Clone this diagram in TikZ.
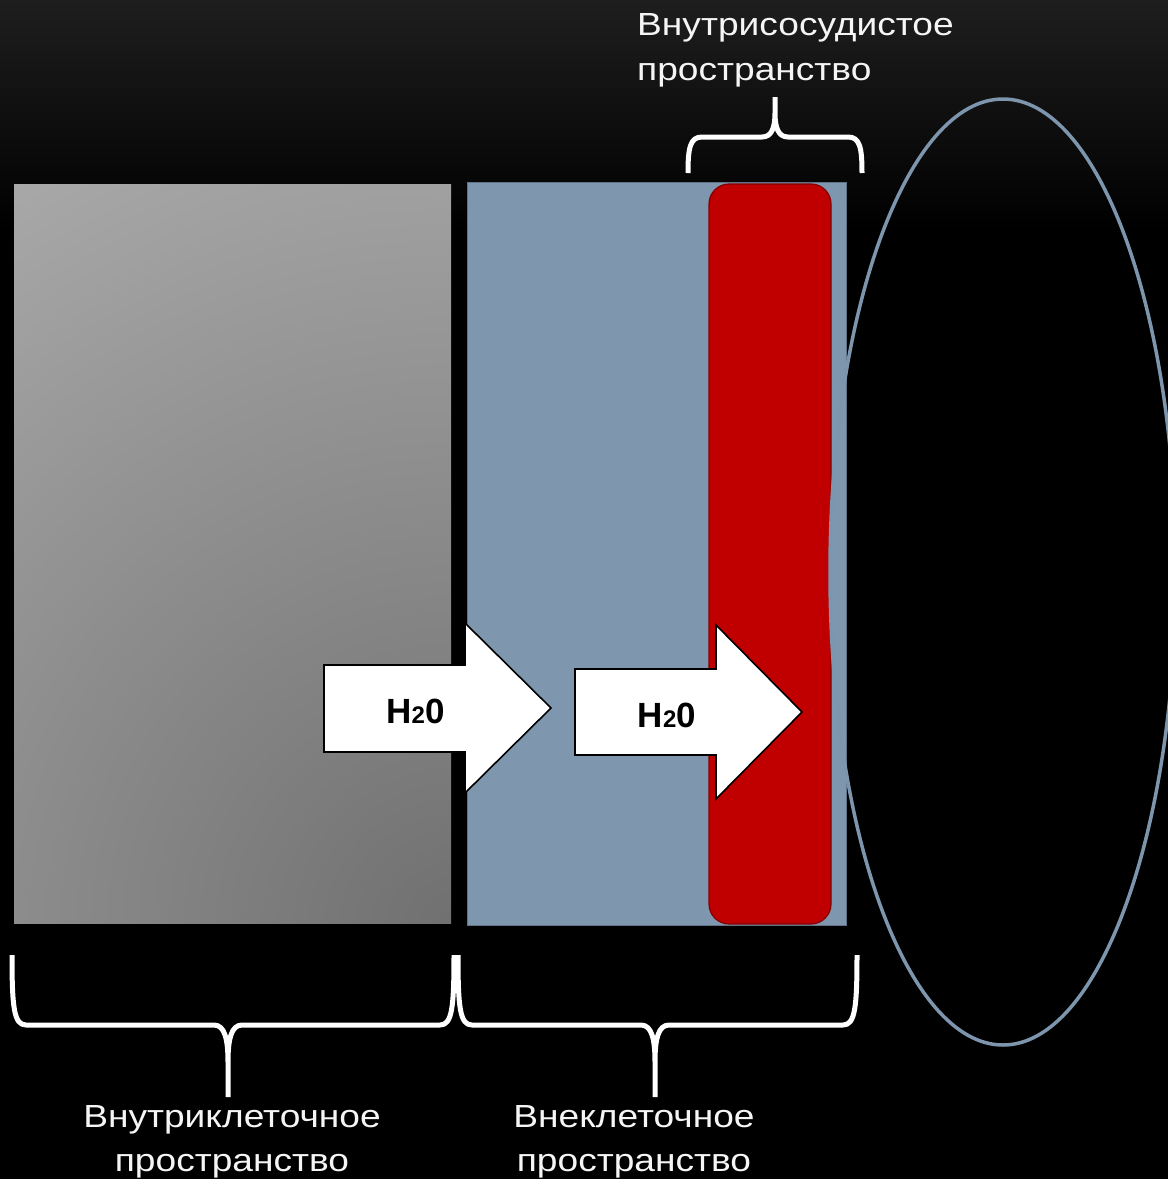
\documentclass[tikz,border=0pt]{standalone}
\usepackage{fontspec}
\setmainfont{Liberation Sans}
\newfontfamily\labelfont{Liberation Sans}[FakeStretch=1.16]
\definecolor{bgtop}{RGB}{30,30,30}
\definecolor{cellLight}{RGB}{170,170,170}
\definecolor{cellDark}{RGB}{112,112,112}
\definecolor{extraFill}{RGB}{127,151,174}
\definecolor{extraEdge}{RGB}{96,114,134}
\definecolor{vesselFill}{RGB}{192,0,0}
\definecolor{vesselEdge}{RGB}{130,0,0}
\definecolor{rimCol}{RGB}{125,149,173}
\definecolor{labelCol}{RGB}{245,245,245}
\tikzset{
  bracket/.style={draw=white, line width=5pt, line join=round},
  flowarrow/.style={draw=black, fill=white, line width=1.6pt, line join=miter},
  flowtext/.style={font=\fontsize{35}{40}\selectfont\bfseries, text=black, inner sep=0pt, anchor=base},
  caption/.style={font=\labelfont\fontsize{32}{40}\selectfont, text=labelCol, inner sep=0pt},
}
\newcommand{\water}{H{\fontsize{24}{24}\selectfont 2}0}
\begin{document}
\begin{tikzpicture}[x=1pt,y=-1pt]
  % page and dark backdrop
  \useasboundingbox (0,0) rectangle (1168,1179);
  \fill[black] (0,0) rectangle (1168,1179);
  \shade[top color=bgtop, bottom color=black] (0,0) rectangle (1168,230);

  % intracellular block with soft gradient, darkest at the lower right
  \begin{scope}
    \clip (14,184) rectangle (451,923);
    \fill[cellLight] (14,184) rectangle (451,923);
    \shade[inner color=cellDark, outer color=cellLight] (455,930) circle (900);
  \end{scope}

  % extracellular block
  \draw[fill=extraFill, draw=extraEdge, line width=1pt] (467,182) rectangle (846,925);

  % vessel bar
  \draw[fill=vesselFill, draw=vesselEdge, line width=1.2pt, rounded corners=20pt] (709,184) rectangle (831,924);

  % vessel outline
  \draw[rimCol, line width=3.5pt] (1003,572) ellipse [x radius=173, y radius=473];

  % water flow arrows
  \draw[flowarrow] (324,665) -- (465,665) -- (465,623) -- (551,708) -- (465,793) -- (465,752) -- (324,752) -- cycle;
  \node[flowtext] (h2oA) at (415.5,723) {\water};
  \draw[flowarrow] (575,669) -- (716,669) -- (716,625) -- (802,712) -- (716,799) -- (716,755) -- (575,755) -- cycle;
  \node[flowtext] (h2oB) at (667,727) {\water};

  % brace over the vessel
  \draw[bracket] (688,173) .. controls (688,148) and (690,137) .. (702,137) -- (762,137)
    .. controls (772,137) and (775,127) .. (775,113) -- (775,97)
    (775,113) .. controls (775,127) and (778,137) .. (788,137) -- (848,137)
    .. controls (860,137) and (862,148) .. (862,173);

  % brace under the intracellular block
  \draw[bracket] (12,955) .. controls (12,1008) and (14,1025) .. (26,1025) -- (214,1025)
    .. controls (225,1025) and (228,1040) .. (228,1062) -- (228,1097)
    (228,1062) .. controls (228,1040) and (231,1025) .. (242,1025) -- (440,1025)
    .. controls (452,1025) and (454,1008) .. (454,955);

  % brace under the extracellular block
  \draw[bracket] (458,955) .. controls (458,1008) and (460,1025) .. (472,1025) -- (641,1025)
    .. controls (652,1025) and (655,1040) .. (655,1062) -- (655,1097)
    (655,1062) .. controls (655,1040) and (658,1025) .. (669,1025) -- (843,1025)
    .. controls (855,1025) and (857,1008) .. (857,955);

  % captions
  \node[caption, anchor=base west] (vasc1) at (637,35) {Внутрисосудистое};
  \node[caption, anchor=base west] (vasc2) at (637,80) {пространство};
  \node[caption, anchor=base] (cell1) at (232,1127) {Внутриклеточное};
  \node[caption, anchor=base] (cell2) at (232,1171) {пространство};
  \node[caption, anchor=base] (extra1) at (634,1127) {Внеклеточное};
  \node[caption, anchor=base] (extra2) at (634,1171) {пространство};
\end{tikzpicture}
\end{document}
